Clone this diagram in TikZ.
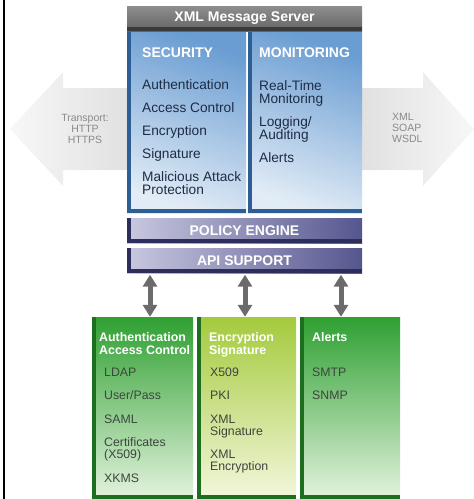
\documentclass[tikz,border=0pt]{standalone}
\usepackage{fontspec}
\setmainfont{Liberation Sans}
\usetikzlibrary{arrows.meta}
\definecolor{srvtop}{HTML}{8E8E8E}
\definecolor{srvbot}{HTML}{646464}
\definecolor{srvedge}{HTML}{3A3A3A}
\definecolor{paneltop}{HTML}{6A9DD2}
\definecolor{panelbot}{HTML}{E2ECF6}
\definecolor{paneledge}{HTML}{2D5E96}
\definecolor{paneltext}{HTML}{1E2C46}
\definecolor{barlight}{HTML}{C8C8E0}
\definecolor{bardark}{HTML}{56568F}
\definecolor{baredge}{HTML}{2E2E5C}
\definecolor{greentop}{HTML}{2FA032}
\definecolor{greenbot}{HTML}{E4F3DE}
\definecolor{limetop}{HTML}{A4CA3C}
\definecolor{limebot}{HTML}{F3F7DC}
\definecolor{greenedge}{HTML}{1D6F1F}
\definecolor{greentext}{HTML}{3C463C}
\definecolor{sidegray}{HTML}{8A8A8A}
\tikzset{
  edge3d/.style={path picture={
      \fill[#1] (path picture bounding box.south west) rectangle ([xshift=4pt]path picture bounding box.north west);
      \fill[#1] (path picture bounding box.south west) rectangle ([yshift=4pt]path picture bounding box.south east);}},
  shadowed/.style={path picture={
      \fill[#1] (path picture bounding box.south west) rectangle ([yshift=4pt]path picture bounding box.south east);}},
  bar/.style={minimum width=235pt, minimum height=25pt, inner sep=0pt, text=white,
    font=\bfseries\fontsize{14}{16}\selectfont},
  panel/.style={minimum height=181pt, inner sep=0pt, top color=paneltop, bottom color=panelbot,
    shading angle=-20, edge3d=paneledge},
  paneltitle/.style={anchor=west, inner sep=0pt, text=white, font=\bfseries\fontsize{14}{16}\selectfont},
  panellist/.style={anchor=north west, inner sep=0pt, align=left, text=paneltext,
    font=\fontsize{13.7}{13}\selectfont},
  card/.style={minimum width=100pt, minimum height=182pt, inner sep=0pt, edge3d=greenedge},
  cardhead/.style={anchor=north west, inner sep=0pt, align=left, text=white,
    font=\bfseries\fontsize{12.4}{13}\selectfont},
  carditem/.style={anchor=north west, inner sep=0pt, align=left, text=greentext,
    font=\fontsize{12.3}{12}\selectfont},
  sidetext/.style={inner sep=0pt, text=sidegray, font=\fontsize{10.5}{11}\selectfont},
  apiarrow/.style={draw=black!58, line width=5pt, {Triangle[width=14pt,length=12pt]}-{Triangle[width=14pt,length=12pt]}}
}
\begin{document}
\begin{tikzpicture}[x=1pt,y=-1pt]
\useasboundingbox (0,0) rectangle (474,499);
\shade[left color=gray!6, right color=gray!24] (10,129) -- (63,72) -- (63,88) -- (130,88) -- (130,170) -- (63,170) -- (63,186) -- cycle;
\shade[left color=gray!24, right color=gray!6] (474,129) -- (423,72) -- (423,88) -- (360,88) -- (360,170) -- (423,170) -- (423,186) -- cycle;
\draw[line width=2.5pt] (4.2,0) -- (4.2,499);

\node[sidetext, align=center] (transport) at (85,129) {Transport:\\HTTP\\HTTPS};
\node[sidetext, align=left, anchor=north west] (formats) at (392,113) {XML\\SOAP\\WSDL};

\node[bar, top color=srvtop, bottom color=srvbot, shadowed=srvedge] (server) at (244.5,18.5) {XML Message Server};
\node[panel, minimum width=119pt] (security) at (186.5,122.5) {};
\node[panel, minimum width=114pt] (monitoring) at (305,122.5) {};
\node[paneltitle] (sechead) at (142,53) {SECURITY};
\node[paneltitle] (monhead) at (259,53) {MONITORING};
\node[panellist] (seclist) at (142,79) {Authentication\\[10pt]Access Control\\[10pt]Encryption\\[10pt]Signature\\[10pt]Malicious Attack\\Protection};
\node[panellist] (monlist) at (259,80) {Real-Time\\Monitoring\\[10pt]Logging/\\Auditing\\[10pt]Alerts};

\node[bar, left color=barlight, right color=bardark, edge3d=baredge] (policy) at (244.5,230.5) {POLICY ENGINE};
\node[bar, left color=barlight, right color=bardark, edge3d=baredge] (api) at (244.5,260.5) {API SUPPORT};

\node[card, top color=greentop, bottom color=greenbot, minimum width=101pt] (authcard) at (142.5,408) {};
\node[card, top color=limetop, bottom color=limebot, minimum width=99pt] (enccard) at (246.5,408) {};
\node[card, top color=greentop, bottom color=greenbot] (alertcard) at (350,408) {};

\node[cardhead] (authhead) at (99,332.5) {Authentication\\Access Control};
\node[carditem] (authlist) at (104,367.6) {LDAP\\[11.5pt]User/Pass\\[11.5pt]SAML\\[11.5pt]Certificates\\(X509)\\[11.5pt]XKMS};
\node[cardhead] (enchead) at (209,332.5) {Encryption\\Signature};
\node[carditem] (enclist) at (210,367.6) {X509\\[11.5pt]PKI\\[11.5pt]XML\\Signature\\[11.5pt]XML\\Encryption};
\node[cardhead] (alerthead) at (312,332.5) {Alerts};
\node[carditem] (alertlist) at (312,367.6) {SMTP\\[11.5pt]SNMP};

\coordinate (a1) at ([xshift=7.5pt]authcard.north);
\coordinate (a2) at ([xshift=-1.5pt]enccard.north);
\coordinate (a3) at ([xshift=-9pt]alertcard.north);
\draw[apiarrow] ([yshift=-1.5pt]api.south -| a1) -- (a1);
\draw[apiarrow] ([yshift=-1.5pt]api.south -| a2) -- (a2);
\draw[apiarrow] ([yshift=-1.5pt]api.south -| a3) -- (a3);
\end{tikzpicture}
\end{document}
